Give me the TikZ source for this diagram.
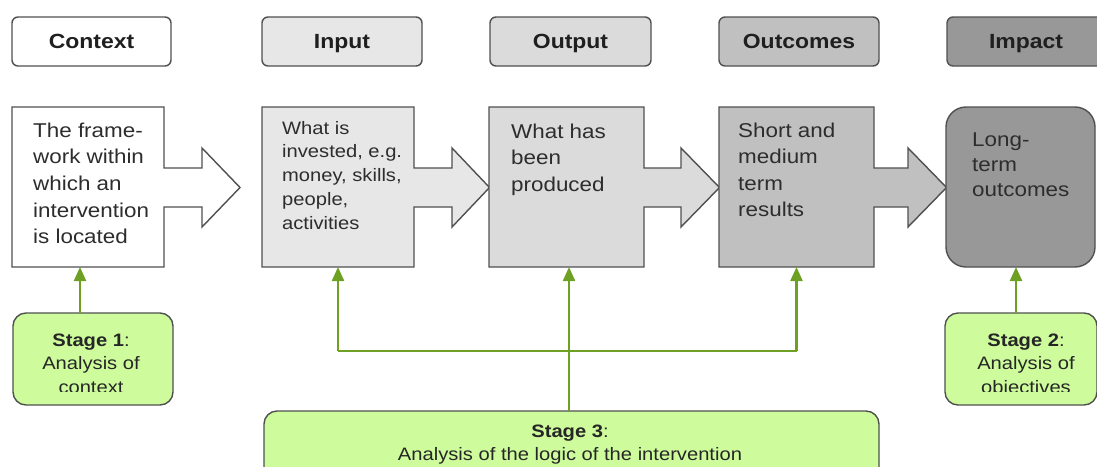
\documentclass[tikz,border=0pt]{standalone}
\usepackage{fontspec}
\setmainfont{Liberation Sans}[FakeStretch=1.12]
\usetikzlibrary{arrows.meta}
\definecolor{bord}{RGB}{80,80,80}
\definecolor{finput}{RGB}{231,231,231}
\definecolor{foutput}{RGB}{219,219,219}
\definecolor{foutcomes}{RGB}{192,192,192}
\definecolor{fimpact}{RGB}{152,152,152}
\definecolor{gfill}{RGB}{206,252,156}
\definecolor{garr}{RGB}{110,160,36}
\definecolor{btxt}{RGB}{45,45,45}
\newcommand\arrowbox[5]{\draw[boxline,fill=#5] (#1,107) -- (#2,107) -- (#2,168) -- (#3,168) -- (#3,148) -- (#4,187.5) -- (#3,227) -- (#3,207) -- (#2,207) -- (#2,267) -- (#1,267) -- cycle;}
\begin{document}
\begin{tikzpicture}[x=1pt,y=-1pt,
  hdr/.style={draw=bord, line width=1.4pt, rounded corners=6pt, minimum height=49pt, inner sep=0pt,
    text height=17.5pt, text depth=4.2pt,
    font=\fontsize{20.5}{24}\selectfont\bfseries, text=black!88},
  boxline/.style={draw=bord, line width=1.4pt, line join=miter},
  boxref/.style={inner sep=0pt, outer sep=0pt, minimum height=160pt},
  btext/.style={anchor=north west, inner sep=0pt, align=left, text=btxt},
  stagebox/.style={draw=bord, line width=1.4pt, fill=gfill, rounded corners=13pt, inner sep=0pt},
  stext/.style={anchor=north, inner sep=0pt, align=center, text=black!85,
    font=\fontsize{18}{23.5}\selectfont},
  garrow/.style={draw=garr, line width=2.2pt, -{Triangle[width=12pt,length=14pt]}},
  gline/.style={draw=garr, line width=2.2pt}
]
\useasboundingbox (0,0) rectangle (1097,466);
\clip (0,0) rectangle (1097,466);
\fill[white] (0,0) rectangle (1097,466);

% header labels
\node[hdr, fill=white, minimum width=159pt] (hctx) at (91.5,41.5) {Context};
\node[hdr, fill=finput, minimum width=160pt] (hin) at (342,41.5) {Input};
\node[hdr, fill=foutput, minimum width=161pt] (hout) at (570.5,41.5) {Output};
\node[hdr, fill=foutcomes, minimum width=160pt] (hocm) at (799,41.5) {Outcomes};
\node[hdr, fill=fimpact, minimum width=158pt] (himp) at (1026,41.5) {Impact};

% main boxes (outlines merged with their arrows)
\arrowbox{12}{164}{202}{240}{white}
\arrowbox{262}{414}{452}{489.5}{finput}
\arrowbox{489}{644}{681}{719.5}{foutput}
\arrowbox{719}{874}{908}{946.5}{foutcomes}
\draw[boxline, fill=fimpact, rounded corners=20pt] (946,107) rectangle (1095,267);

% reference nodes for the boxes
\node[boxref, minimum width=152pt] (ctx) at (88,187) {};
\node[boxref, minimum width=152pt] (inp) at (338,187) {};
\node[boxref, minimum width=155pt] (outp) at (566.5,187) {};
\node[boxref, minimum width=155pt] (ocm) at (796.5,187) {};
\node[boxref, minimum width=149pt] (imp) at (1020.5,187) {};

% box texts
\node[btext, font=\fontsize{20}{26.7}\selectfont] (tctx) at (33,122.5) {The frame-\\work within\\which an\\intervention\\is located};
\node[btext, font=\fontsize{18}{23.7}\selectfont] (tin) at (282,121) {What is\\invested, e.g.\\money, skills,\\people,\\activities};
\node[btext, font=\fontsize{20}{26.5}\selectfont] (tout) at (511,123.5) {What has\\been\\produced};
\node[btext, font=\fontsize{20}{26.5}\selectfont] (tocm) at (738,122.5) {Short and\\medium\\term\\results};
\node[btext, font=\fontsize{20}{25}\selectfont] (timp) at (972,133) {Long-\\term\\outcomes};

% stage boxes
\node[stagebox, minimum width=160pt, minimum height=92pt] (s1) at (93,359) {};
\node[stagebox, minimum width=152pt, minimum height=92pt] (s2) at (1021,359) {};
\node[stagebox, minimum width=615pt, minimum height=90pt] (s3) at (571.5,456) {};

\begin{scope}
\clip (0,0) rectangle (1097,391.5);
\node[stext] (ts1) at (91,333.5) {{\bfseries Stage 1}:\\Analysis of\\context};
\node[stext] (ts2) at (1026,333.5) {{\bfseries Stage 2}:\\Analysis of\\objectives};
\end{scope}
\node[stext, font=\fontsize{18}{23}\selectfont] (ts3) at (570,424.5) {{\bfseries Stage 3}:\\Analysis of the logic of the intervention};

% green connectors
\coordinate (a1) at (80,313);
\coordinate (a2) at (1016,313);
\coordinate (a3) at (569,411);
\coordinate (j3) at (569,351);
\draw[garrow] (a1) -- (a1 |- ctx.south);
\draw[garrow] (a2) -- (a2 |- imp.south);
\draw[garrow] (a3) -- (a3 |- outp.south);
\draw[gline] (j3) -- (j3 -| inp.south);
\draw[gline] (j3) -- (j3 -| ocm.south);
\draw[garrow] (j3 -| inp.south) -- (inp.south);
\draw[garrow] (j3 -| ocm.south) -- (ocm.south);
\end{tikzpicture}
\end{document}
